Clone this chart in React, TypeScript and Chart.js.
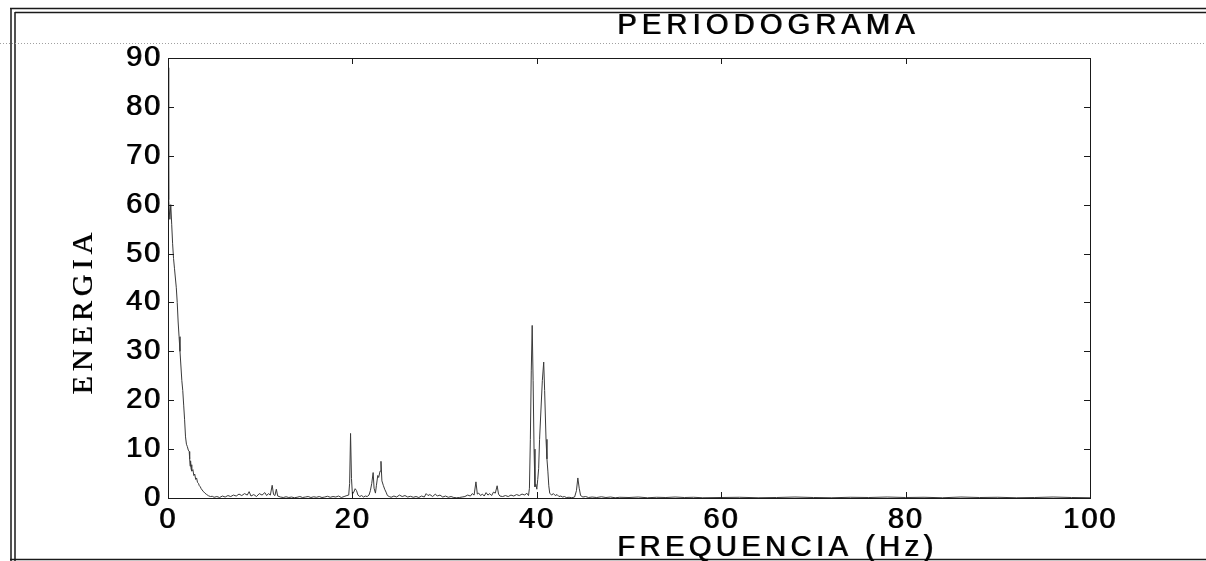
import React, { useEffect, useRef } from "react";
import { Chart, registerables } from "chart.js";

Chart.register(...registerables);

const chartTitle = "PERIODOGRAMA";
const xTitle = "FREQUENCIA (Hz)";
const yTitle = "ENERGIA";

const xTicks = [0, 20, 40, 60, 80, 100];
const yTicks = [0, 10, 20, 30, 40, 50, 60, 70, 80, 90];

const freqHz = [
  0.0, 0.05, 0.1, 0.2, 0.3, 0.4, 0.5, 0.6, 0.7, 0.8, 0.9, 1.0, 1.1, 1.2, 1.3, 1.4, 1.5, 1.6, 1.7, 1.8, 1.9,
  2.0, 2.1, 2.2, 2.3, 2.35, 2.4, 2.45, 2.5, 2.55, 2.6, 2.7, 2.8, 2.9, 3.0, 3.1, 3.2, 3.3, 3.4, 3.5, 3.6,
  3.8, 4.0, 4.2, 4.4, 4.6, 4.8, 5.0,
  5.3, 5.6, 5.9, 6.2, 6.5, 6.8, 7.1, 7.4, 7.7, 8.0, 8.3, 8.6, 8.8, 9.0, 9.3, 9.6, 9.9, 10.2, 10.5, 10.7,
  10.9, 11.1, 11.3, 11.45, 11.6, 11.75, 11.9, 12.2, 12.5, 12.8, 13.1, 13.4, 13.7, 14.0, 14.3, 14.6, 14.9,
  15.2, 15.5, 15.8, 16.1, 16.4, 16.7, 17.0, 17.3, 17.6, 17.9, 18.2, 18.5, 18.8, 19.1, 19.4, 19.6,
  19.7, 19.8, 19.9, 20.0, 20.15, 20.3, 20.45, 20.6, 20.8, 21.0, 21.2, 21.4, 21.6, 21.8, 21.95, 22.1, 22.25,
  22.35, 22.5, 22.6, 22.75, 22.85, 23.0, 23.1, 23.2, 23.35, 23.5, 23.65, 23.8, 24.0, 24.2, 24.5, 24.8,
  25.1, 25.4, 25.7, 26.0, 26.3, 26.6, 26.9, 27.2, 27.5, 27.8, 28.0, 28.2, 28.4, 28.7, 29.0, 29.2, 29.5,
  29.8, 30.1, 30.4, 30.7, 31.0, 31.3, 31.6, 31.9, 32.2, 32.5, 32.8, 33.0, 33.2, 33.4, 33.55, 33.7, 33.9,
  34.1, 34.3, 34.5, 34.7, 34.9, 35.1, 35.3, 35.5, 35.7, 35.85, 36.0, 36.3, 36.6, 36.9, 37.2, 37.5, 37.8,
  38.1, 38.4, 38.7, 38.9, 39.1, 39.2, 39.3, 39.4, 39.5, 39.6, 39.7, 39.8, 39.9, 40.0, 40.1, 40.2, 40.3,
  40.45, 40.6, 40.75, 40.85, 41.0, 41.1, 41.2, 41.3, 41.4, 41.6, 41.8, 42.0, 42.2, 42.4, 42.6, 42.8,
  43.0, 43.2, 43.5, 43.8, 44.1, 44.3, 44.45, 44.6, 44.75, 45.0, 45.3, 45.6, 46.0, 46.5, 47.0, 47.5,
  48.0, 48.5, 49.0, 50.0, 51.0, 52.0, 53.0, 54.0, 55.0, 56.0, 57.0, 58.0, 60.0, 62.0, 64.0, 66.0, 68.0,
  70.0, 72.0, 74.0, 76.0, 78.0, 80.0, 82.0, 84.0, 86.0, 88.0, 90.0, 92.0, 94.0, 96.0, 98.0, 100.0,
];

const energia = [
  88, 70, 61, 57, 60, 56, 52, 49, 47, 45, 43, 40, 36, 33, 30, 27, 24, 22, 19, 16, 12.5,
  11, 10.5, 9.8, 9.5, 8, 6.5, 7.6, 6, 6.8, 5.5, 5.8, 4.6, 4.9, 3.8, 4.1, 3.2, 3.0, 2.5, 2.3, 1.9,
  1.4, 1.0, 0.7, 0.45, 0.3, 0.35, 0.15,
  0.3, 0.1, 0.4, 0.2, 0.5, 0.3, 0.6, 0.4, 0.8, 0.5, 0.9, 0.6, 1.3, 0.4, 0.7, 0.3, 0.9, 0.6, 1.1, 0.5,
  0.9, 0.6, 2.6, 0.7, 0.5, 1.8, 0.4, 0.2, 0.1, 0.25, 0.1, 0.2, 0.05, 0.15, 0.3, 0.1, 0.2,
  0.3, 0.1, 0.25, 0.15, 0.3, 0.1, 0.2, 0.35, 0.15, 0.3, 0.2, 0.4, 0.1, 0.3, 0.5, 0.6,
  3, 13.2, 4, 0.8, 1.2, 1.9, 1.5, 0.6, 0.3, 0.5, 0.2, 0.4, 0.3, 0.6, 1.5, 3, 5.2,
  2, 1, 2.5, 4.6, 4.2, 5.5, 7.5, 3.5, 2.6, 1.8, 1.2, 0.5, 0.3, 0.15, 0.4, 0.2,
  0.6, 0.3, 0.5, 0.2, 0.35, 0.15, 0.3, 0.1, 0.4, 0.2, 0.9, 0.5, 0.7, 0.3, 0.8, 0.4, 0.6,
  0.2, 0.4, 0.15, 0.3, 0.1, 0.05, 0.1, 0.2, 0.3, 0.6, 0.4, 0.9, 0.6, 3.3, 0.8, 1.0, 0.5,
  0.8, 0.4, 1.1, 0.6, 0.9, 0.5, 1.2, 1.0, 2.5, 0.8, 0.4, 0.3, 0.5, 0.3, 0.6, 0.4, 0.7,
  0.5, 0.8, 0.6, 1.0, 0.5, 2, 12, 26, 35.3, 24, 10, 2.3, 2.8, 1.8, 3.8, 6, 12,
  18, 24, 27.8, 22, 12, 8, 5.5, 2.5, 1, 0.6, 0.9, 0.5, 0.7, 0.3, 0.4, 0.2,
  0.3, 0.1, 0.15, 0.05, 0.2, 1.5, 4.1, 2, 0.5, 0.2, 0.3, 0.1, 0.2, 0.1, 0.25, 0.1,
  0.2, 0.05, 0.15, 0.1, 0.2, 0.05, 0.15, 0.1, 0.2, 0.1, 0.15, 0.05, 0.1, 0.15, 0.05, 0.1, 0.2,
  0.1, 0.05, 0.15, 0.1, 0.2, 0.1, 0.15, 0.05, 0.2, 0.1, 0.15, 0.05, 0.1, 0.2, 0.1, 0.05,
];

const sansFont = "'Liberation Sans', Arial, Helvetica, sans-serif";

function thicken(ctx: CanvasRenderingContext2D, on: boolean) {
  ctx.shadowColor = on ? "rgba(0,0,0,0.85)" : "rgba(0,0,0,0)";
  ctx.shadowOffsetX = on ? 1 : 0;
  ctx.shadowOffsetY = 0;
  ctx.shadowBlur = 0;
}

const decorPlugin = {
  id: "decor",
  beforeDraw(chart: any) {
    const ctx = chart.ctx as CanvasRenderingContext2D;
    ctx.save();
    ctx.fillStyle = "#ffffff";
    ctx.fillRect(0, 0, chart.width, chart.height);
    // scanned page frame
    ctx.strokeStyle = "#1a1a1a";
    ctx.lineWidth = 1.5;
    ctx.beginPath();
    ctx.moveTo(11, 8); ctx.lineTo(11, 561);
    ctx.moveTo(15, 12); ctx.lineTo(15, 561);
    ctx.moveTo(10, 8.5); ctx.lineTo(1206, 8.5);
    ctx.moveTo(15, 12.5); ctx.lineTo(1206, 12.5);
    ctx.moveTo(10, 559.5); ctx.lineTo(1206, 559.5);
    ctx.stroke();
    ctx.strokeStyle = "#a0a0a0";
    ctx.lineWidth = 1;
    ctx.setLineDash([1, 2]);
    ctx.beginPath();
    ctx.moveTo(0, 43.5); ctx.lineTo(1206, 43.5);
    ctx.stroke();
    ctx.restore();
    (ctx as any).letterSpacing = "2px";
    thicken(ctx, true);
  },
  beforeDatasetsDraw(chart: any) {
    const ctx = chart.ctx as CanvasRenderingContext2D;
    thicken(ctx, false);
    (ctx as any).letterSpacing = "0px";
  },
  afterDraw(chart: any) {
    const ctx = chart.ctx as CanvasRenderingContext2D;
    (ctx as any).letterSpacing = "0px";
    thicken(ctx, false);
    const { left, right, top, bottom } = chart.chartArea;
    const xs = chart.scales.x;
    const ys = chart.scales.y;
    ctx.save();
    ctx.strokeStyle = "#1a1a1a";
    ctx.lineWidth = 1;
    ctx.strokeRect(Math.round(left) + 0.5, Math.round(top) + 0.5, Math.round(right - left), Math.round(bottom - top));
    ctx.beginPath();
    for (const v of xTicks) {
      const px = Math.round(xs.getPixelForValue(v)) + 0.5;
      ctx.moveTo(px, bottom); ctx.lineTo(px, bottom - 6);
      ctx.moveTo(px, top); ctx.lineTo(px, top + 6);
    }
    for (const v of yTicks) {
      const py = Math.round(ys.getPixelForValue(v)) + 0.5;
      ctx.moveTo(left, py); ctx.lineTo(left + 6, py);
      ctx.moveTo(right, py); ctx.lineTo(right - 6, py);
    }
    ctx.stroke();

    thicken(ctx, true);
    ctx.fillStyle = "#000000";
    ctx.textAlign = "left";
    ctx.textBaseline = "alphabetic";
    ctx.font = "29px " + sansFont;
    (ctx as any).letterSpacing = "5.2px";
    ctx.fillText(chartTitle, 617, 34);
    (ctx as any).letterSpacing = "4.5px";
    ctx.fillText(xTitle, 617, 556);

    ctx.translate(92, 394);
    ctx.rotate(-Math.PI / 2);
    ctx.font = "30px 'Liberation Serif', 'Times New Roman', serif";
    (ctx as any).letterSpacing = "5px";
    ctx.shadowOffsetX = 0;
    ctx.shadowOffsetY = 0.8;
    ctx.fillText(yTitle, 0, 0);
    ctx.restore();
    (ctx as any).letterSpacing = "0px";
    thicken(ctx, false);
  },
};

export default function App() {
  const canvasRef = useRef<HTMLCanvasElement | null>(null);

  useEffect(() => {
    const canvas = canvasRef.current;
    if (!canvas) return;
    const points = freqHz.map((f, i) => ({ x: f, y: energia[i] }));
    const chart = new Chart(canvas, {
      type: "line",
      data: {
        datasets: [
          {
            data: points,
            borderColor: "#3a3a3a",
            borderWidth: 1,
            pointRadius: 0,
            tension: 0,
            fill: false,
          },
        ],
      },
      options: {
        animation: false,
        responsive: false,
        devicePixelRatio: 1,
        layout: { padding: { left: 0, right: 116, top: 58, bottom: 0 } },
        plugins: {
          legend: { display: false },
          title: { display: false },
          tooltip: { enabled: false },
        },
        scales: {
          x: {
            type: "linear",
            min: 0,
            max: 100,
            afterBuildTicks: (scale: any) => {
              scale.ticks = xTicks.map((v) => ({ value: v }));
            },
            afterFit: (scale: any) => {
              scale.height = 63;
            },
            grid: { display: false, drawTicks: false },
            border: { display: false },
            ticks: {
              color: "#000000",
              padding: 5,
              maxRotation: 0,
              font: { family: sansFont, size: 29 },
            },
          },
          y: {
            type: "linear",
            min: 0,
            max: 90,
            afterBuildTicks: (scale: any) => {
              scale.ticks = yTicks.map((v) => ({ value: v }));
            },
            afterFit: (scale: any) => {
              scale.width = 168;
            },
            grid: { display: false, drawTicks: false },
            border: { display: false },
            ticks: {
              color: "#000000",
              padding: 6,
              font: { family: sansFont, size: 29 },
            },
          },
        },
      },
      plugins: [decorPlugin],
    });
    return () => chart.destroy();
  }, []);

  return (
    <div style={{ position: "fixed", left: 0, top: 0, width: 1206, height: 561, background: "#fff" }}>
      <canvas ref={canvasRef} width={1206} height={561} style={{ display: "block" }} />
    </div>
  );
}
